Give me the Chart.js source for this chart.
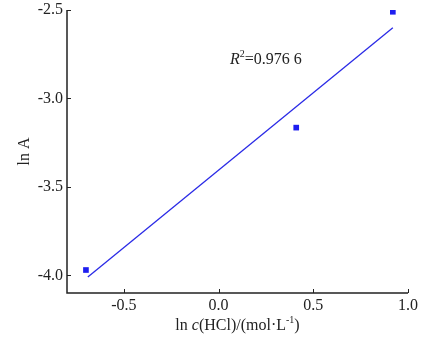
<!DOCTYPE html>
<html>
<head>
<meta charset="utf-8">
<script src="https://cdn.jsdelivr.net/npm/chart.js@4"></script>
<style>
  html, body { margin: 0; padding: 0; background: #fff; }
  #wrap { width: 436px; height: 348px; }
</style>
</head>
<body>
<div id="wrap"><canvas id="lnChart" width="436" height="348"></canvas></div>
<script>
// measured points
const lnC = [-0.70, 0.41, 0.92];
const lnA = [-3.97, -3.165, -2.51];

// fitted line end points
const fitX = [-0.69, 0.92];
const fitY = [-4.01, -2.60];

const xTicks = [-0.5, 0.0, 0.5, 1.0];
const yTicks = [-4.0, -3.5, -3.0, -2.5];

const serif = "'Liberation Serif', 'Times New Roman', serif";
const blue = "#1e1ef0";

// inward ticks, axis titles and the R² note
const extras = {
    id: "extras",
    afterDraw(c) {
        let ctx = c.ctx;
        let xs = c.scales.x, ys = c.scales.y;
        let a = c.chartArea;
        ctx.save();
        ctx.strokeStyle = "#222";
        ctx.lineWidth = 1.5;
        ctx.beginPath();
        ctx.moveTo(a.left, a.top);
        ctx.lineTo(a.left, a.bottom);
        ctx.lineTo(a.right, a.bottom);
        ctx.stroke();
        ctx.lineWidth = 1;
        xTicks.forEach(v => {
            let px = Math.round(xs.getPixelForValue(v)) + 0.5;
            ctx.beginPath();
            ctx.moveTo(px, a.bottom);
            ctx.lineTo(px, a.bottom - 4);
            ctx.stroke();
        });
        yTicks.forEach(v => {
            let py = Math.round(ys.getPixelForValue(v)) + 0.5;
            ctx.beginPath();
            ctx.moveTo(a.left, py);
            ctx.lineTo(a.left + 4, py);
            ctx.stroke();
        });

        ctx.fillStyle = "#222";
        ctx.textBaseline = "middle";

        // x title: ln c(HCl)/(mol·L⁻¹)
        let parts = [["ln ", ""], ["c", "italic "], ["(HCl)/(mol·L", ""], ["-1", "sup"], [")", ""]];
        let widths = parts.map(p => {
            ctx.font = p[1] === "sup" ? "10px " + serif : p[1] + "16px " + serif;
            return ctx.measureText(p[0]).width;
        });
        let total = widths.reduce((s, w) => s + w, 0);
        let x = (a.left + a.right) / 2 - total / 2;
        let y = 326;
        ctx.textAlign = "left";
        parts.forEach((p, i) => {
            ctx.font = p[1] === "sup" ? "10px " + serif : p[1] + "16px " + serif;
            ctx.fillText(p[0], x, p[1] === "sup" ? y - 6 : y);
            x += widths[i];
        });

        // y title
        ctx.save();
        ctx.translate(25, (a.top + a.bottom) / 2);
        ctx.rotate(-Math.PI / 2);
        ctx.textAlign = "center";
        ctx.font = "16px " + serif;
        ctx.fillText("ln A", 0, 0);
        ctx.restore();

        // R² note
        let rx = xs.getPixelForValue(0.06);
        let ry = ys.getPixelForValue(-2.78);
        ctx.textAlign = "left";
        ctx.font = "italic 16px " + serif;
        ctx.fillText("R", rx, ry);
        rx += ctx.measureText("R").width;
        ctx.font = "10px " + serif;
        ctx.fillText("2", rx, ry - 5);
        rx += ctx.measureText("2").width;
        ctx.font = "16px " + serif;
        ctx.fillText("=0.976 6", rx, ry);
        ctx.restore();
    }
};

let ctx = document.getElementById("lnChart").getContext("2d");

let chart = new Chart(ctx, {
    type: "scatter",
    data: {
        datasets: [{
            label: "data",
            data: lnC.map((v, i) => ({ x: v, y: lnA[i] })),
            pointStyle: "rect",
            pointRadius: 4,
            backgroundColor: blue,
            borderColor: blue,
            borderWidth: 0
        }, {
            label: "fit",
            type: "line",
            data: fitX.map((v, i) => ({ x: v, y: fitY[i] })),
            borderColor: "#2a2ae6",
            borderWidth: 1.3,
            pointRadius: 0,
            fill: false
        }]
    },
    options: {
        responsive: false,
        animation: false,
        layout: { padding: { top: 10, right: 28, left: 0, bottom: 0 } },
        plugins: {
            legend: { display: false },
            tooltip: { enabled: false }
        },
        scales: {
            x: {
                type: "linear",
                min: -0.8,
                max: 1.0,
                afterBuildTicks: s => { s.ticks = xTicks.map(v => ({ value: v })); },
                afterFit: s => { s.height = 55; s.paddingLeft = 0; s.paddingRight = 0; },
                grid: { display: false, drawTicks: false, tickLength: 0 },
                border: { display: false },
                ticks: {
                    padding: 3,
                    color: "#222",
                    font: { family: serif, size: 16 },
                    callback: v => v.toFixed(1)
                }
            },
            y: {
                type: "linear",
                min: -4.1,
                max: -2.5,
                afterBuildTicks: s => { s.ticks = yTicks.map(v => ({ value: v })); },
                afterFit: s => { s.width = 67; s.paddingTop = 0; s.paddingBottom = 0; },
                grid: { display: false, drawTicks: false, tickLength: 0 },
                border: { display: false },
                ticks: {
                    padding: 4,
                    color: "#222",
                    font: { family: serif, size: 16 },
                    callback: v => v.toFixed(1)
                }
            }
        }
    },
    plugins: [extras]
});
</script>
</body>
</html>
